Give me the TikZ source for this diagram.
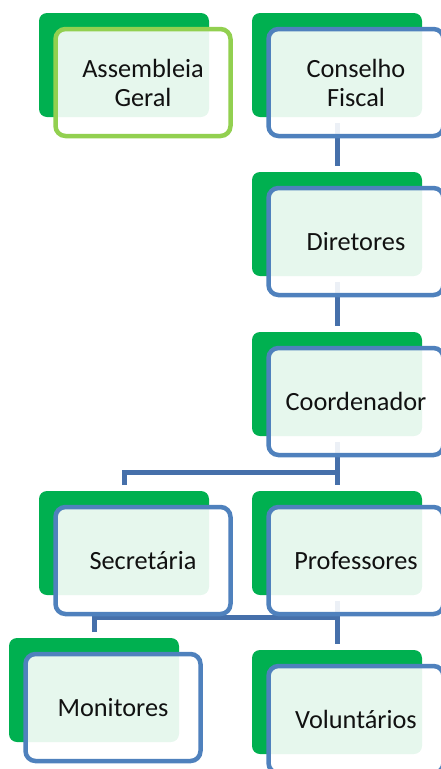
\documentclass[tikz,border=0pt]{standalone}
\usepackage{fontspec}
\setmainfont{Carlito}
\usetikzlibrary{backgrounds}
\definecolor{sagreen}{HTML}{00B050}
\definecolor{sablue}{HTML}{4F81BD}
\definecolor{salime}{HTML}{92D050}
\definecolor{salink}{HTML}{4670AA}
\definecolor{satext}{HTML}{111111}
\begin{document}
\begin{tikzpicture}[x=1pt,y=-1pt,
  backbox/.style={fill=sagreen, rounded corners=8pt, minimum width=170pt, minimum height=104pt,
    inner sep=0pt, outer sep=0pt, anchor=north west},
  frontbox/.style={draw=sablue, line width=4.5pt, fill=white, fill opacity=0.9, text opacity=1,
    rounded corners=10pt, minimum width=175pt, minimum height=107pt, inner sep=0pt, outer sep=0pt,
    anchor=north west, align=center, text=satext, font=\fontsize{26.3}{29}\selectfont},
  conn/.style={draw=salink, line width=5pt}]
\useasboundingbox (0,0) rectangle (440,769);
% back boxes
\node[backbox] (Ab)  at (39,13)  {};
\node[backbox] (Cb)  at (252,13) {};
\node[backbox] (Db)  at (252,172) {};
\node[backbox] (Cob) at (252,332) {};
\node[backbox] (Sb)  at (39,491) {};
\node[backbox] (Pb)  at (252,491) {};
\node[backbox] (Mb)  at (9,638)  {};
\node[backbox] (Vb)  at (252,650) {};
% front boxes
\node[frontbox, draw=salime] (A) at (55.5,29) {Assembleia\\Geral};
\node[frontbox] (C)  at (268.5,29)  {Conselho\\Fiscal};
\node[frontbox] (D)  at (268.5,188) {Diretores};
\node[frontbox] (Co) at (268.5,348) {Coordenador};
\node[frontbox] (S)  at (55.5,507)  {Secretária};
\node[frontbox] (P)  at (268.5,507) {Professores};
\node[frontbox] (M)  at (25.5,654)  {Monitores};
\node[frontbox] (V)  at (268.5,666) {Voluntários};
% connectors
\begin{scope}[on background layer]
\draw[conn] ([yshift=-6pt]Cb.south) -- ([yshift=6pt]Db.north);
\draw[conn] ([yshift=-6pt]Db.south) -- ([yshift=6pt]Cob.north);
\draw[conn] ([yshift=-6pt]Cob.south) -- ([yshift=6pt]Pb.north);
\draw[conn] ([yshift=6pt]Sb.north) |- ([yshift=19pt]Pb.north);
\draw[conn] ([yshift=-6pt]Pb.south) -- ([yshift=6pt]Vb.north);
\draw[conn] ([yshift=6pt]Mb.north) |- ([yshift=-22pt]Pb.south);
\end{scope}
\end{tikzpicture}
\end{document}
